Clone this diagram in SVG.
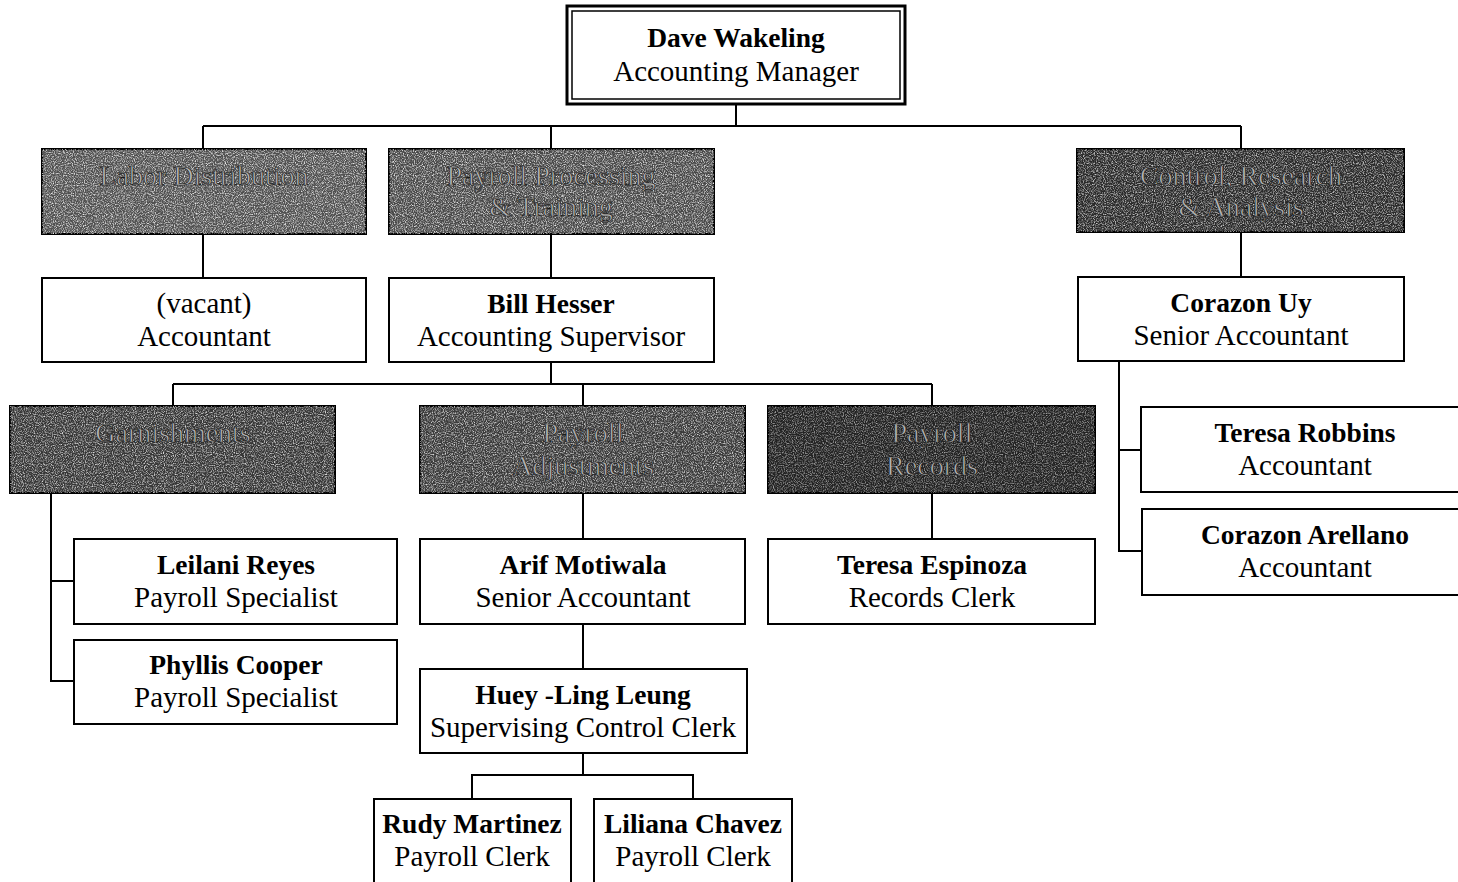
<svg xmlns="http://www.w3.org/2000/svg" width="1458" height="882" viewBox="0 0 1458 882">
<style>
.box{fill:#fff;stroke:#000;stroke-width:2}
.dark{stroke:#000;stroke-width:2}
.tex{filter:url(#speck)}
.n{font-family:"Liberation Serif",serif;font-size:27.5px;font-weight:bold;text-anchor:middle;fill:#000}
.t{font-family:"Liberation Serif",serif;font-size:29px;text-anchor:middle;fill:#000}
.d{font-family:"Liberation Serif",serif;font-size:28px;text-anchor:middle;fill:#b4b4b4;stroke:#1a1a1a;stroke-width:0.7}
.c line,.c polyline{stroke:#000;stroke-width:2;fill:none}
</style>
<defs>
<filter id="speck" x="0" y="0" width="1" height="1">
<feTurbulence type="fractalNoise" baseFrequency="0.9" numOctaves="2" seed="3" result="n"/>
<feColorMatrix in="n" type="matrix" values="0 0 0 0 0.8  0 0 0 0 0.8  0 0 0 0 0.8  0 0 0 2.4 -1.0" result="s"/>
<feComposite in="s" in2="SourceGraphic" operator="in"/>
</filter>
</defs>
<rect width="1458" height="882" fill="#fff"/>
<g class="c" id="connectors">
<line x1="736" y1="104" x2="736" y2="126"/>
<line x1="203" y1="126" x2="1241" y2="126"/>
<line x1="203" y1="126" x2="203" y2="149"/>
<line x1="551" y1="126" x2="551" y2="149"/>
<line x1="1241" y1="126" x2="1241" y2="149"/>
<line x1="203" y1="234" x2="203" y2="278"/>
<line x1="551" y1="234" x2="551" y2="278"/>
<line x1="1241" y1="232" x2="1241" y2="277"/>
<line x1="551" y1="362" x2="551" y2="384"/>
<line x1="173" y1="384" x2="932" y2="384"/>
<line x1="173" y1="384" x2="173" y2="406"/>
<line x1="583" y1="384" x2="583" y2="406"/>
<line x1="932" y1="384" x2="932" y2="406"/>
<polyline points="51,493 51,681 74,681"/>
<line x1="51" y1="581" x2="74" y2="581"/>
<line x1="583" y1="493" x2="583" y2="539"/>
<line x1="932" y1="493" x2="932" y2="539"/>
<line x1="583" y1="624" x2="583" y2="669"/>
<line x1="583" y1="753" x2="583" y2="775"/>
<polyline points="472,799 472,775 693,775 693,799"/>
<polyline points="1119,361 1119,551 1142,551"/>
<line x1="1119" y1="450" x2="1142" y2="450"/>
</g>
<g id="dave">
<rect x="567" y="6" width="338" height="98" fill="#fff" stroke="#000" stroke-width="3"/>
<rect x="572" y="11" width="328" height="88" fill="none" stroke="#000" stroke-width="1.5"/>
<text class="n" x="736" y="47">Dave Wakeling</text>
<text class="t" x="736" y="81">Accounting Manager</text>
</g>
<g id="labor">
<rect class="dark" x="42" y="149" width="324" height="85" fill="#505050"/>
<rect class="tex" x="42" y="149" width="324" height="85" fill="#000"/>
<text class="d" x="204" y="185">Labor Distribution</text>
</g>
<g id="payrollproc">
<rect class="dark" x="389" y="149" width="325" height="85" fill="#484848"/>
<rect class="tex" x="389" y="149" width="325" height="85" fill="#000"/>
<text class="d" x="551" y="185">Payroll Processing</text>
<text class="d" x="551" y="216">&amp; Training</text>
</g>
<g id="control">
<rect class="dark" x="1077" y="149" width="327" height="83" fill="#2a2a2a"/>
<rect class="tex" x="1077" y="149" width="327" height="83" fill="#000" opacity="0.85"/>
<text class="d" x="1241" y="185">Control, Research</text>
<text class="d" x="1241" y="216">&amp; Analysis</text>
</g>
<g id="vacant">
<rect class="box" x="42" y="278" width="324" height="84"/>
<text class="t" x="204" y="313">(vacant)</text>
<text class="t" x="204" y="346">Accountant</text>
</g>
<g id="bill">
<rect class="box" x="389" y="278" width="325" height="84"/>
<text class="n" x="551" y="313">Bill Hesser</text>
<text class="t" x="551" y="346">Accounting Supervisor</text>
</g>
<g id="corazonuy">
<rect class="box" x="1078" y="277" width="326" height="84"/>
<text class="n" x="1241" y="312">Corazon Uy</text>
<text class="t" x="1241" y="345">Senior Accountant</text>
</g>
<g id="garnish">
<rect class="dark" x="10" y="406" width="325" height="87" fill="#363636"/>
<rect class="tex" x="10" y="406" width="325" height="87" fill="#000" opacity="0.9"/>
<text class="d" x="173" y="442">Garnishments</text>
</g>
<g id="adjust">
<rect class="dark" x="420" y="406" width="325" height="87" fill="#3a3a3a"/>
<rect class="tex" x="420" y="406" width="325" height="87" fill="#000" opacity="0.9"/>
<text class="d" x="583" y="442">Payroll</text>
<text class="d" x="583" y="475">Adjustments</text>
</g>
<g id="records">
<rect class="dark" x="768" y="406" width="327" height="87" fill="#222"/>
<rect class="tex" x="768" y="406" width="327" height="87" fill="#000" opacity="0.65"/>
<text class="d" x="932" y="442">Payroll</text>
<text class="d" x="932" y="475">Records</text>
</g>
<g id="teresar">
<rect class="box" x="1141" y="407" width="330" height="85"/>
<text class="n" x="1305" y="442">Teresa Robbins</text>
<text class="t" x="1305" y="475">Accountant</text>
</g>
<g id="corazona">
<rect class="box" x="1142" y="509" width="330" height="86"/>
<text class="n" x="1305" y="544">Corazon Arellano</text>
<text class="t" x="1305" y="577">Accountant</text>
</g>
<g id="leilani">
<rect class="box" x="74" y="539" width="323" height="85"/>
<text class="n" x="236" y="574">Leilani Reyes</text>
<text class="t" x="236" y="607">Payroll Specialist</text>
</g>
<g id="phyllis">
<rect class="box" x="74" y="640" width="323" height="84"/>
<text class="n" x="236" y="674">Phyllis Cooper</text>
<text class="t" x="236" y="707">Payroll Specialist</text>
</g>
<g id="arif">
<rect class="box" x="420" y="539" width="325" height="85"/>
<text class="n" x="583" y="574">Arif Motiwala</text>
<text class="t" x="583" y="607">Senior Accountant</text>
</g>
<g id="teresae">
<rect class="box" x="768" y="539" width="327" height="85"/>
<text class="n" x="932" y="574">Teresa Espinoza</text>
<text class="t" x="932" y="607">Records Clerk</text>
</g>
<g id="huey">
<rect class="box" x="420" y="669" width="327" height="84"/>
<text class="n" x="583" y="704">Huey -Ling Leung</text>
<text class="t" x="583" y="737">Supervising Control Clerk</text>
</g>
<g id="rudy">
<rect class="box" x="374" y="799" width="197" height="95"/>
<text class="n" x="472" y="833">Rudy Martinez</text>
<text class="t" x="472" y="866">Payroll Clerk</text>
</g>
<g id="liliana">
<rect class="box" x="594" y="799" width="198" height="95"/>
<text class="n" x="693" y="833">Liliana Chavez</text>
<text class="t" x="693" y="866">Payroll Clerk</text>
</g>
</svg>
